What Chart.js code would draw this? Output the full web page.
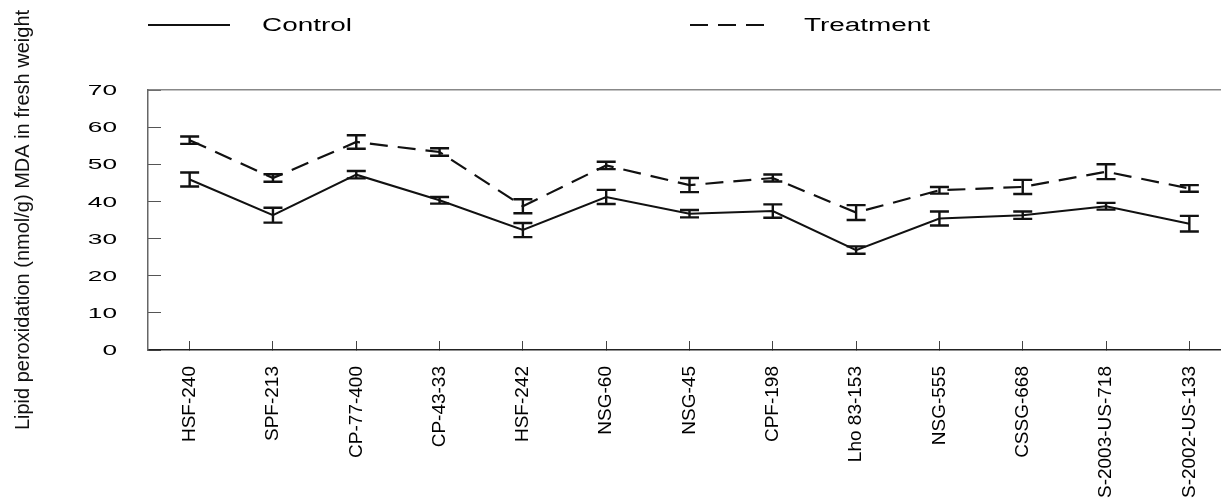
<!DOCTYPE html>
<html>
<head>
<meta charset="utf-8">
<script src="https://cdn.jsdelivr.net/npm/chart.js@4/dist/chart.umd.min.js"></script>
<style>
  html, body { margin: 0; padding: 0; background: #fff; overflow: hidden; }
</style>
</head>
<body>
<canvas id="lineChart" width="1240" height="502"></canvas>
<script>
var genotypes = [
  "HSF-240", "SPF-213", "CP-77-400", "CP-43-33", "HSF-242", "NSG-60", "NSG-45",
  "CPF-198", "Lho 83-153", "NSG-555", "CSSG-668", "S-2003-US-718", "S-2002-US-133",
];
var control = [45.9, 36.3, 47.2, 40.3, 32.3, 41.2, 36.7, 37.4, 26.9, 35.4, 36.3, 38.7, 34.0];
var controlErr = [1.9, 2.0, 1.0, 0.9, 1.9, 1.9, 1.0, 1.8, 1.0, 1.9, 1.0, 0.9, 2.1];
var treatment = [56.5, 46.3, 56.0, 53.3, 38.7, 49.7, 44.4, 46.3, 37.0, 43.0, 43.9, 48.0, 43.5];
var treatmentErr = [1.0, 1.0, 1.8, 1.0, 1.9, 1.0, 1.9, 0.95, 2.0, 0.9, 1.9, 2.0, 0.9];
var yTicks = [0, 10, 20, 30, 40, 50, 60, 70];

var FONT = "'Liberation Sans', Arial, sans-serif";

// draws text stretched sideways like the source figure
function wideText(ctx, text, x, y, sx, align) {
  ctx.save();
  ctx.translate(x, y);
  ctx.scale(sx, 1);
  ctx.textAlign = align;
  ctx.fillText(text, 0, 0);
  ctx.restore();
}

var extras = {
  id: "extras",
  afterDatasetsDraw: function (chart) {
    var ctx = chart.ctx;
    var ys = chart.scales.y;
    // error bars
    chart.data.datasets.forEach(function (ds, i) {
      var meta = chart.getDatasetMeta(i);
      ctx.save();
      ctx.strokeStyle = "#111";
      ctx.lineWidth = 2.4;
      ctx.setLineDash([]);
      meta.data.forEach(function (pt, j) {
        var v = ds.data[j], e = ds.errors[j];
        var top = ys.getPixelForValue(v + e);
        var bot = ys.getPixelForValue(v - e);
        ctx.beginPath();
        ctx.moveTo(pt.x, top); ctx.lineTo(pt.x, bot);
        ctx.moveTo(pt.x - 9.5, top); ctx.lineTo(pt.x + 9.5, top);
        ctx.moveTo(pt.x - 9.5, bot); ctx.lineTo(pt.x + 9.5, bot);
        ctx.stroke();
      });
      ctx.restore();
    });
  },
  afterDraw: function (chart) {
    var ctx = chart.ctx;
    var ys = chart.scales.y;
    ctx.save();
    ctx.fillStyle = "#000";
    ctx.textBaseline = "middle";
    // y tick labels
    ctx.font = "15px " + FONT;
    yTicks.forEach(function (t) {
      wideText(ctx, String(t), 117, ys.getPixelForValue(t) + 1, 1.75, "right");
    });
    // legend
    var legendX = [148, 690];
    ctx.font = "18px " + FONT;
    chart.data.datasets.forEach(function (ds, i) {
      var x = legendX[i];
      ctx.save();
      ctx.strokeStyle = ds.borderColor;
      ctx.lineWidth = 2;
      ctx.setLineDash(ds.borderDash || []);
      ctx.beginPath();
      ctx.moveTo(x, 25); ctx.lineTo(x + 82, 25);
      ctx.stroke();
      ctx.restore();
      wideText(ctx, ds.label, x + 114, 26, 1.55, "left");
    });
    ctx.restore();
  },
};

var ctx = document.getElementById("lineChart").getContext("2d");
var myChart = new Chart(ctx, {
  type: "line",
  data: {
    labels: genotypes,
    datasets: [
      {
        label: "Control",
        data: control,
        errors: controlErr,
        borderColor: "#111",
        borderWidth: 2,
        pointRadius: 0,
        tension: 0,
      },
      {
        label: "Treatment",
        data: treatment,
        errors: treatmentErr,
        borderColor: "#111",
        borderWidth: 2.2,
        borderDash: [18, 10],
        pointRadius: 0,
        tension: 0,
      },
    ],
  },
  options: {
    responsive: false,
    animation: false,
    devicePixelRatio: 1,
    layout: { padding: { top: 90, right: 9, left: 0, bottom: 0 } },
    plugins: { legend: { display: false }, tooltip: { enabled: false } },
    scales: {
      x: {
        type: "category",
        offset: true,
        grid: { drawOnChartArea: false, tickLength: -9, color: "#444", lineWidth: 1 },
        border: { color: "#222", width: 1.5 },
        ticks: {
          minRotation: 90,
          maxRotation: 90,
          autoSkip: false,
          padding: 25,
          color: "#000",
          font: { family: FONT, size: 19 },
        },
        afterFit: function (s) { s.height = 152; },
      },
      x2: {
        type: "category",
        position: "top",
        labels: genotypes,
        offset: true,
        grid: { display: false, drawTicks: false },
        ticks: { display: false },
        border: { color: "#888", width: 1.5 },
        afterFit: function (s) { s.height = 0; },
      },
      y: {
        min: 0,
        max: 70,
        ticks: { stepSize: 10, display: false },
        grid: { drawOnChartArea: false, tickLength: -13, color: "#555", lineWidth: 1 },
        border: { color: "#666", width: 1.5 },
        title: {
          display: true,
          text: "Lipid peroxidation (nmol/g) MDA in fresh weight",
          color: "#111",
          font: { family: FONT, size: 20 },
          padding: { top: 11, bottom: 0 },
        },
        afterFit: function (s) { s.width = 148; },
      },
    },
  },
  plugins: [extras],
});
</script>
</body>
</html>
